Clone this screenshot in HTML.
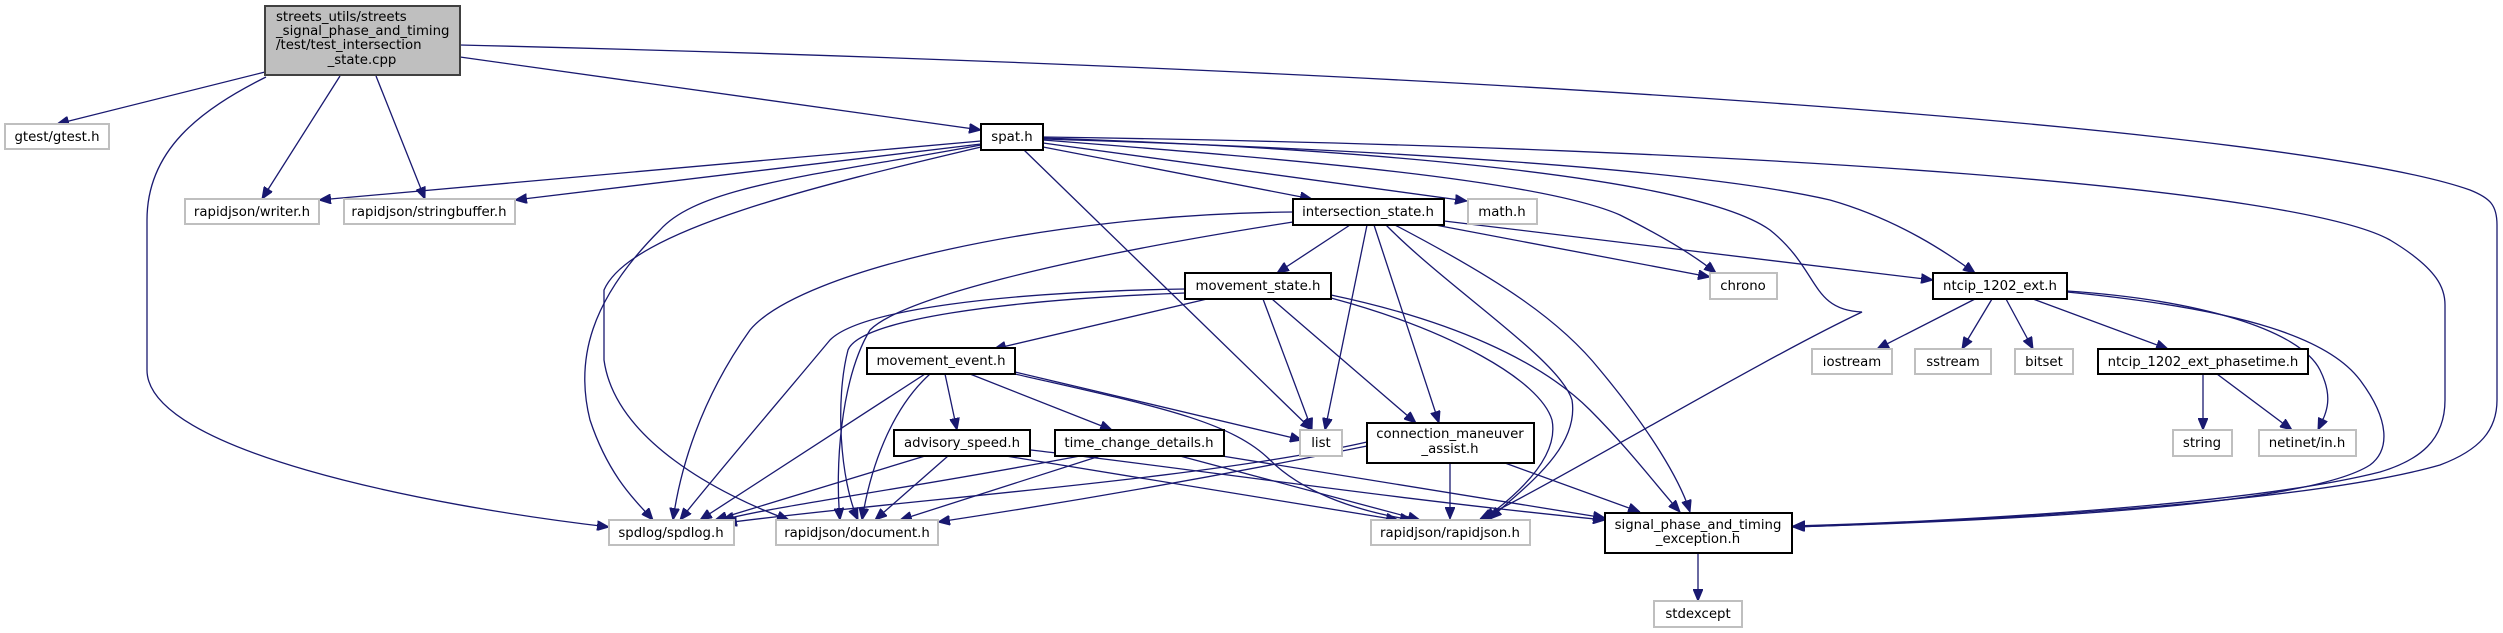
<!DOCTYPE html>
<html><head><meta charset="utf-8"><style>
html,body{margin:0;padding:0;background:#fff;width:2503px;height:633px;overflow:hidden}
svg text{font-family:"DejaVu Sans","Liberation Sans",sans-serif;font-size:13.3px;fill:#000}
.e{fill:none;stroke:#191970;stroke-width:1.3}
.ext{fill:#fff;stroke:#bfbfbf;stroke-width:2}
.int{fill:#fff;stroke:#000;stroke-width:2}
</style></head><body>
<svg width="2503" height="633" viewBox="0 0 2503 633" xmlns="http://www.w3.org/2000/svg">
<defs><marker id="a" viewBox="0 0 12 10" refX="12" refY="5" markerWidth="12" markerHeight="10" markerUnits="userSpaceOnUse" orient="auto"><path d="M0,0 L12,5 L0,10 z" fill="#191970" stroke="#191970"/></marker></defs>
<g class="e" marker-end="url(#a)">
<!-- main -->
<path d="M265,72 L57,124"/>
<path d="M266,77 C200,110 147,150 147,220 L147,370 C147,450 420,505 609,527"/>
<path d="M340,76 L262,199"/>
<path d="M376,76 L425,199"/>
<path d="M460,57 L981,130"/>
<path d="M460,45 C1500,70 2300,130 2470,190 C2490,198 2497,205 2497,225 L2497,400 C2497,430 2480,450 2440,465 C2300,505 1950,522 1793,527"/>
<!-- spat -->
<path d="M981,141 L319,200"/>
<path d="M981,144 L515,200"/>
<path d="M981,145 C820,175 700,185 660,230 C590,300 575,360 590,420 C610,480 640,505 653,520"/>
<path d="M981,147 C820,185 630,230 604,290 L604,360 C615,440 720,495 789,520"/>
<path d="M1024,150 L1312,430"/>
<path d="M1043,147 L1312,199"/>
<path d="M1043,143 L1467,201"/>
<path d="M1043,140 C1300,160 1540,180 1620,215 C1670,240 1700,260 1716,273"/>
<path d="M1043,139 C1400,150 1700,170 1830,200 C1900,220 1950,255 1975,273"/>
<path d="M1043,138 C1400,150 1700,180 1770,230 C1820,270 1810,310 1862,312 C1760,360 1560,480 1480,519"/>
<path d="M1043,137 C1800,148 2300,190 2390,240 C2440,270 2445,290 2445,305 L2445,400 C2445,440 2420,460 2380,472 C2250,505 1950,522 1793,526"/>
<!-- intersection_state -->
<path d="M1350,225 L1277,273"/>
<path d="M1367,225 L1325,430"/>
<path d="M1374,225 L1439,423"/>
<path d="M1386,225 C1450,290 1560,360 1572,400 C1580,450 1520,490 1490,519"/>
<path d="M1395,225 C1500,280 1560,320 1600,370 C1650,430 1680,480 1690,512"/>
<path d="M1430,224 L1710,277"/>
<path d="M1444,221 L1933,280"/>
<path d="M1293,212 C1050,214 800,270 750,330 C700,400 680,470 673,520"/>
<path d="M1293,222 C1050,260 900,300 870,330 C840,380 835,470 840,520"/>
<!-- movement_state -->
<path d="M1207,299 L994,349"/>
<path d="M1263,299 L1312,430"/>
<path d="M1272,299 L1416,423"/>
<path d="M1331,298 C1450,330 1540,380 1552,420 C1560,460 1510,500 1484,519"/>
<path d="M1331,295 C1450,320 1540,360 1590,410 C1630,450 1660,490 1680,512"/>
<path d="M1185,289 C1000,292 860,310 830,340 C780,400 720,470 680,520"/>
<path d="M1185,293 C1000,300 860,320 848,350 C835,400 840,480 858,520"/>
<!-- movement_event -->
<path d="M945,374 L957,430"/>
<path d="M970,374 L1112,430"/>
<path d="M1015,372 L1302,440"/>
<path d="M1015,374 C1150,405 1230,420 1270,460 C1300,490 1350,510 1412,520"/>
<path d="M925,374 L700,520"/>
<path d="M930,374 C890,410 870,470 862,520"/>
<!-- advisory -->
<path d="M925,456 L715,520"/>
<path d="M948,456 L875,520"/>
<path d="M1006,456 L1398,520"/>
<path d="M1031,450 C1200,470 1400,500 1605,520"/>
<!-- time_change -->
<path d="M1080,456 C900,490 780,505 722,520"/>
<path d="M1100,456 L900,520"/>
<path d="M1180,456 L1420,520"/>
<path d="M1222,456 L1605,518"/>
<!-- connection -->
<path d="M1367,442 C1200,480 900,500 725,523"/>
<path d="M1367,446 C1200,480 1050,505 938,522"/>
<path d="M1450,463 L1450,519"/>
<path d="M1505,463 L1640,512"/>
<!-- signal_phase -->
<path d="M1698,553 L1698,601"/>
<!-- ntcip -->
<path d="M1975,299 L1877,349"/>
<path d="M1992,299 L1962,349"/>
<path d="M2006,299 L2033,349"/>
<path d="M2033,299 L2168,349"/>
<path d="M2067,291 C2200,300 2300,330 2320,370 C2335,400 2325,415 2318,430"/>
<path d="M2067,292 C2250,310 2330,340 2360,380 C2390,420 2390,450 2370,465 C2300,510 1950,522 1793,527"/>
<!-- phasetime -->
<path d="M2203,374 L2203,430"/>
<path d="M2217,374 L2292,430"/>
</g>
<!-- nodes -->
<rect x="265" y="6" width="195" height="69" fill="#bfbfbf" stroke="#404040" stroke-width="2"/>
<text x="276" y="21">streets_utils/streets</text>
<text x="276" y="35">_signal_phase_and_timing</text>
<text x="276" y="49">/test/test_intersection</text>
<text x="362" y="64" text-anchor="middle">_state.cpp</text>

<g text-anchor="middle">
<rect class="ext" x="5" y="124" width="104" height="25"/><text x="57" y="141">gtest/gtest.h</text>
<rect class="int" x="981" y="124" width="62" height="26"/><text x="1012" y="141">spat.h</text>
<rect class="ext" x="185" y="199" width="134" height="25"/><text x="252" y="216">rapidjson/writer.h</text>
<rect class="ext" x="344" y="199" width="171" height="25"/><text x="429" y="216">rapidjson/stringbuffer.h</text>
<rect class="int" x="1293" y="199" width="151" height="26"/><text x="1368" y="216">intersection_state.h</text>
<rect class="ext" x="1468" y="199" width="69" height="25"/><text x="1502" y="216">math.h</text>
<rect class="int" x="1185" y="273" width="146" height="26"/><text x="1258" y="290">movement_state.h</text>
<rect class="ext" x="1710" y="273" width="67" height="26"/><text x="1743" y="290">chrono</text>
<rect class="int" x="1933" y="273" width="134" height="26"/><text x="2000" y="290">ntcip_1202_ext.h</text>
<rect class="int" x="867" y="348" width="148" height="26"/><text x="941" y="365">movement_event.h</text>
<rect class="ext" x="1812" y="349" width="80" height="25"/><text x="1852" y="366">iostream</text>
<rect class="ext" x="1915" y="349" width="76" height="25"/><text x="1953" y="366">sstream</text>
<rect class="ext" x="2015" y="349" width="58" height="25"/><text x="2044" y="366">bitset</text>
<rect class="int" x="2098" y="349" width="210" height="25"/><text x="2203" y="366">ntcip_1202_ext_phasetime.h</text>
<rect class="int" x="894" y="430" width="136" height="26"/><text x="962" y="447">advisory_speed.h</text>
<rect class="int" x="1055" y="430" width="169" height="26"/><text x="1139" y="447">time_change_details.h</text>
<rect class="ext" x="1300" y="430" width="42" height="26"/><text x="1321" y="447">list</text>
<rect class="int" x="1367" y="423" width="167" height="40"/><text x="1450" y="438">connection_maneuver</text><text x="1450" y="453">_assist.h</text>
<rect class="ext" x="2173" y="430" width="59" height="26"/><text x="2202" y="447">string</text>
<rect class="ext" x="2259" y="430" width="97" height="26"/><text x="2307" y="447">netinet/in.h</text>
<rect class="ext" x="609" y="520" width="125" height="25"/><text x="671" y="537">spdlog/spdlog.h</text>
<rect class="ext" x="776" y="520" width="162" height="25"/><text x="857" y="537">rapidjson/document.h</text>
<rect class="ext" x="1371" y="520" width="159" height="25"/><text x="1450" y="537">rapidjson/rapidjson.h</text>
<rect class="int" x="1605" y="513" width="187" height="40"/><text x="1698" y="529">signal_phase_and_timing</text><text x="1698" y="543">_exception.h</text>
<rect class="ext" x="1654" y="601" width="88" height="26"/><text x="1698" y="618">stdexcept</text>
</g>
</svg>
</body></html>
